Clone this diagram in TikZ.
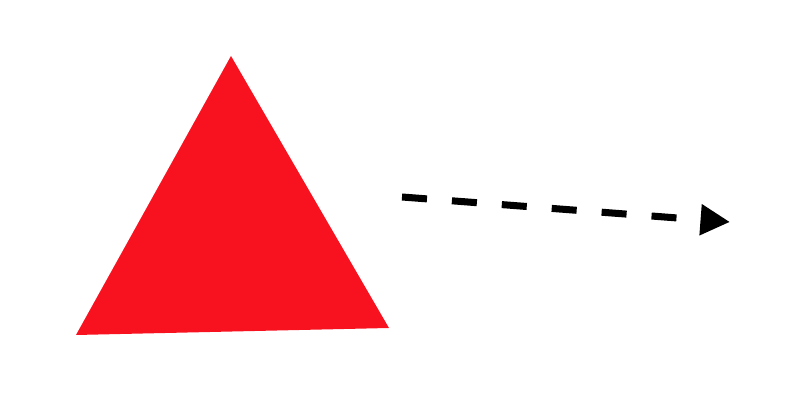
\documentclass[tikz,border=0pt]{standalone}
\usepackage{xcolor}
\definecolor{signalred}{HTML}{F8121F}
\usepackage{tikz}
\usetikzlibrary{arrows.meta}

\begin{document}
\begin{tikzpicture}
    \tikzstyle{redshape} = [fill=signalred, draw=none]
    \tikzstyle{dashedarrow} = [line width=5pt, dash pattern=on 17.8pt off 17.8pt, -{Triangle[length=21pt, width=21pt]}]

    \useasboundingbox (0,0) rectangle (20,10);

    \coordinate (apex) at (5.775,8.6);
    \coordinate (left) at (1.9,1.625);
    \coordinate (right) at (9.725,1.8);
    \fill [redshape] (apex) -- (left) -- (right) -- cycle;

    \coordinate (arrowstart) at (10.05,5.075);
    \coordinate (arrowend) at (18.25,4.45);
    \draw [dashedarrow] (arrowstart) -- (arrowend);

\end{tikzpicture}
\end{document}
